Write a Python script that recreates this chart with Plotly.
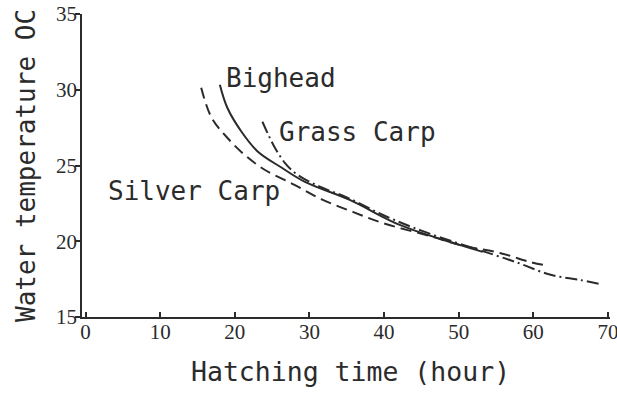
import plotly.graph_objects as go

# Hatching time (hours) versus water temperature (deg C) for three carp species
silver_time = [15.5, 16.9, 19.0, 21.3, 24.0, 28.0, 31.8, 35.8, 39.8, 46.5, 50.1, 55.5, 59.5, 61.3]
silver_temp = [30.13, 28.15, 26.83, 25.71, 24.72, 23.72, 22.73, 21.94, 21.21, 20.29, 19.76, 19.23, 18.64, 18.44]

bighead_time = [18.0, 19.0, 20.9, 23.1, 26.3, 29.4, 35.4, 42.1, 50.1, 53.2]
bighead_temp = [30.33, 28.81, 27.23, 25.91, 24.85, 23.92, 22.73, 21.08, 19.76, 19.30]

grass_time = [23.7, 25.3, 26.7, 28.4, 31.4, 35.0, 40.0, 45.0, 50.0, 53.2, 57.8, 62.2, 66.2, 68.9]
grass_temp = [27.89, 26.24, 25.18, 24.39, 23.6, 22.9, 21.7, 20.7, 19.85, 19.35, 18.6, 17.8, 17.45, 17.18]

x_ticks = [0, 10, 20, 30, 40, 50, 60, 70]
y_ticks = [15, 20, 25, 30, 35]

INK = "#2b2b2b"
MONO = "DejaVu Sans Mono"
SERIF = "Liberation Serif"

fig = go.Figure()

fig.add_trace(go.Scatter(
    x=silver_time, y=silver_temp, mode="lines", line_shape="spline",
    line=dict(color=INK, width=2, dash="11px,6px"), name="Silver Carp"))
fig.add_trace(go.Scatter(
    x=bighead_time, y=bighead_temp, mode="lines", line_shape="spline",
    line=dict(color=INK, width=2), name="Bighead"))
fig.add_trace(go.Scatter(
    x=grass_time, y=grass_temp, mode="lines", line_shape="spline",
    line=dict(color=INK, width=2, dash="12px,4px,2px,4px"), name="Grass Carp"))
# carries the small inward bracket at the top of the temperature axis
fig.add_trace(go.Scatter(x=[None], y=[None], yaxis="y2", showlegend=False))

labels = [
    ("Bighead", bighead_time[0] + 0.6, 30.78),
    ("Grass Carp", grass_time[0] + 1.9, 27.22),
    ("Silver Carp", 2.8, 23.32),
]
for text, x, y in labels:
    fig.add_annotation(x=x, y=y, text=text, showarrow=False,
                       xanchor="left", yanchor="middle",
                       font=dict(family=MONO, size=26, color=INK))

# x-axis title, set as a paper-anchored annotation below the tick labels
fig.add_annotation(x=0.5085, y=-0.18, xref="paper", yref="paper",
                   text="Hatching time (hour)", showarrow=False,
                   xanchor="center", yanchor="middle",
                   font=dict(family=MONO, size=26.5, color=INK))

fig.update_layout(
    width=617, height=395,
    margin=dict(l=82, r=7, t=14, b=78, autoexpand=False),
    paper_bgcolor="white", plot_bgcolor="white",
    showlegend=False,
    xaxis=dict(
        range=[-0.47, 70.27], tickvals=x_ticks, automargin=False,
        showline=True, linecolor=INK, linewidth=1.5,
        ticks="inside", ticklen=5, tickwidth=1.5, tickcolor=INK,
        showgrid=False, zeroline=False,
        ticklabeloverflow="allow", ticklabelstandoff=-5,
        tickfont=dict(family=SERIF, size=21, color=INK),
    ),
    yaxis=dict(
        range=[15, 35], tickvals=y_ticks, automargin=False,
        showline=True, linecolor=INK, linewidth=1.5,
        ticks="outside", ticklen=5, tickwidth=1.5, tickcolor=INK,
        showgrid=False, zeroline=False,
        ticklabelstandoff=-6,
        tickfont=dict(family=SERIF, size=21, color=INK),
        title=dict(text="Water temperature OC", standoff=13,
                   font=dict(family=MONO, size=26, color=INK)),
    ),
    yaxis2=dict(
        overlaying="y", side="left", range=[15, 35], tickvals=[35],
        automargin=False,
        ticks="inside", ticklen=6, tickwidth=1.5, tickcolor=INK,
        showticklabels=False, showline=False, showgrid=False, zeroline=False,
    ),
)

fig.write_html("out.html")
